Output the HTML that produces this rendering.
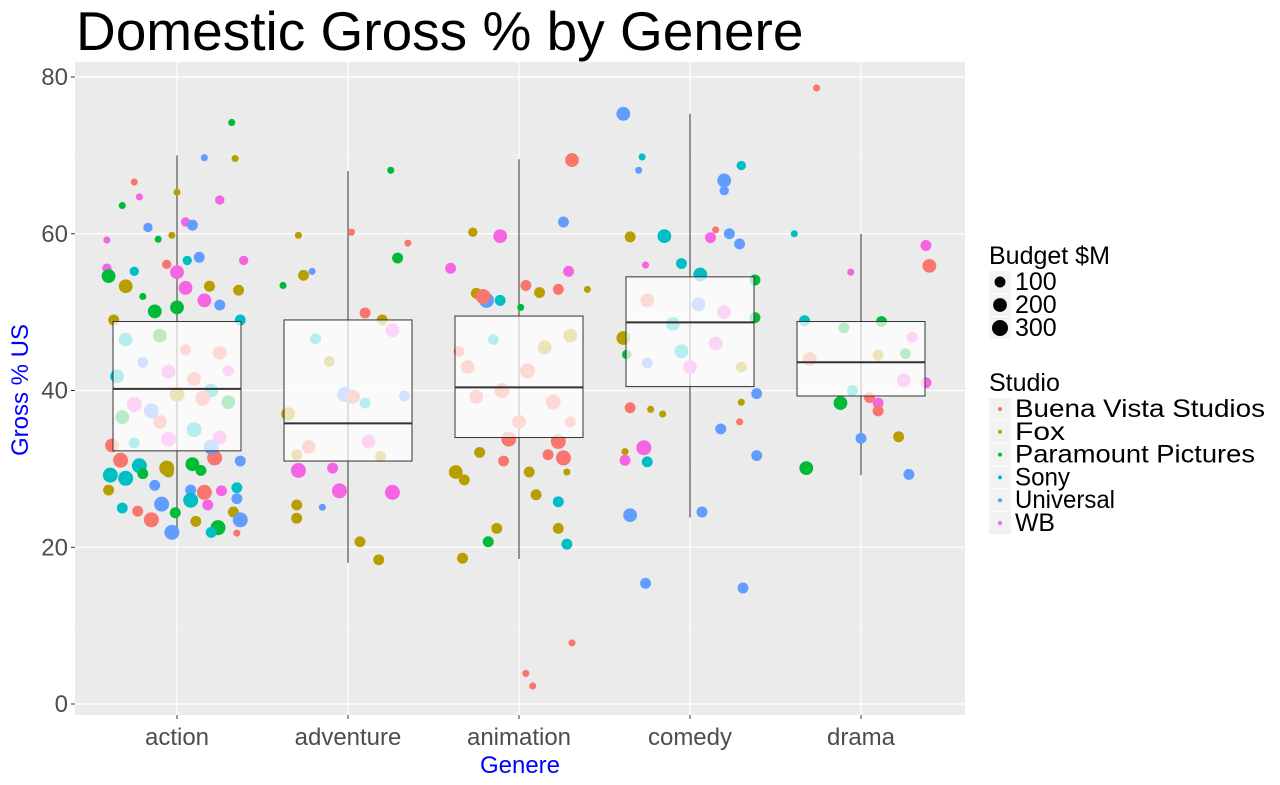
<!DOCTYPE html>
<html><head><meta charset="utf-8"><style>
body{margin:0;background:#fff;}
svg text{font-family:"Comic Sans MS","Liberation Sans",sans-serif;}
</style></head><body>
<svg id="c" width="1280" height="780" xmlns="http://www.w3.org/2000/svg">
<text x="76" y="50" font-size="55" fill="#000">Domestic Gross % by Genere</text>
</svg>
<script>
const categories=["action","adventure","animation","comedy","drama"];
const yTicks=[0,20,40,60,80];
const studios=["Buena Vista Studios","Fox","Paramount Pictures","Sony","Universal","WB"];
const studioColors=["#F8766D","#B79F00","#00BA38","#00BFC4","#619CFF","#F564E3"];
const budgetLegend=[100,200,300];
const boxQ1=[32.3,31.0,34.0,40.5,39.3];
const boxMed=[40.2,35.8,40.4,48.7,43.6];
const boxQ3=[48.8,49.0,49.5,54.5,48.8];
const boxLo=[22,18,18.5,23.8,29.2];
const boxHi=[70,68,69.5,75.3,60];
// points: [category, jitter, gross%, budget, studio]
const points=[
[0,.32,74.2,20,2],[0,.34,69.6,20,1],[0,.16,69.7,20,4],[0,-.25,66.6,20,0],[0,0,65.3,20,1],[0,-.22,64.7,20,5],[0,-.32,63.6,20,2],[0,.25,64.3,60,5],[0,.05,61.5,60,5],[0,-.17,60.8,60,4],[0,.09,61.1,100,4],[0,-.03,59.8,20,1],[0,-.41,59.2,20,5],[0,-.11,59.3,20,2],[0,.39,56.6,60,5],[0,.06,56.6,60,3],[0,.13,57,100,4],[0,-.06,56.1,60,0],[0,-.41,55.6,60,5],[0,-.25,55.2,60,3],[0,-.4,54.6,200,2],[0,0,55.1,200,5],[0,-.3,53.3,200,1],[0,.05,53.1,200,5],[0,.19,53.3,100,1],[0,.36,52.8,100,1],[0,-.13,50.1,200,2],[0,0,50.6,200,2],[0,.16,51.5,200,5],[0,-.2,52,20,2],[0,.25,50.9,100,4],[0,-.37,49,100,1],[0,.37,49,100,3],
[0,-.33,31.1,250,0],[0,-.22,30.4,250,3],[0,-.06,30.1,250,1],[0,.09,30.6,200,2],[0,.22,31.4,250,0],[0,.37,31,100,4],[0,-.39,29.2,250,3],[0,-.3,28.8,250,3],[0,-.2,29.4,100,2],[0,-.05,29.6,100,1],[0,.14,29.8,100,2],[0,-.4,27.3,100,1],[0,-.13,27.9,100,4],[0,.08,27.3,100,4],[0,.16,27,250,0],[0,.26,27.2,100,5],[0,.35,27.6,100,3],[0,.08,26,250,3],[0,.35,26.2,100,4],[0,-.09,25.5,250,4],[0,-.32,25,100,3],[0,.18,25.4,100,5],[0,-.23,24.6,100,0],[0,.33,24.5,100,1],[0,-.15,23.5,250,0],[0,.37,23.5,250,4],[0,-.01,24.4,100,2],[0,.24,22.5,250,2],[0,-.03,21.9,250,4],[0,.2,21.9,100,3],[0,.35,21.8,20,0],[0,.11,23.3,100,1],
[0,-.3,46.5,200,3],[0,-.1,47,200,2],[0,.05,45.2,100,0],[0,.25,44.8,200,0],[0,-.2,43.6,100,4],[0,.1,41.5,200,0],[0,-.35,41.8,200,3],[0,-.05,42.4,200,5],[0,.2,40,200,3],[0,.3,42.5,100,5],[0,-.25,38.2,250,5],[0,0,39.5,250,1],[0,.15,39,250,0],[0,-.15,37.4,250,4],[0,.3,38.5,200,2],[0,-.32,36.6,200,2],[0,-.1,36,200,0],[0,.1,35,250,3],[0,.25,34,200,5],[0,-.25,33.3,100,3],[0,-.05,33.8,250,5],[0,.2,32.8,250,4],[0,-.38,33,200,0],
[1,.25,68.1,20,2],[1,.02,60.2,20,0],[1,-.29,59.8,20,1],[1,.35,58.8,20,0],[1,.29,56.9,100,2],[1,-.21,55.2,20,4],[1,-.26,54.7,100,1],[1,-.38,53.4,20,2],[1,.1,49.9,100,0],[1,.2,49,100,1],[1,-.3,31.8,100,1],[1,.19,31.6,100,1],[1,-.29,29.8,250,5],[1,-.09,30.1,100,5],[1,-.05,27.2,250,5],[1,.26,27,250,5],[1,-.3,25.4,100,1],[1,-.15,25.1,20,4],[1,-.3,23.7,100,1],[1,.07,20.7,100,1],[1,.18,18.4,100,1],
[1,-.02,39.5,250,4],[1,.03,39.2,200,0],[1,-.23,32.8,200,0],[1,.12,33.5,200,5],[1,.26,47.7,200,5],[1,-.11,43.7,100,1],[1,-.19,46.6,100,3],[1,.33,39.3,100,4],[1,-.35,37,200,1],[1,.1,38.4,100,3],
[2,-.4,55.6,100,5],[2,-.27,60.2,60,1],[2,-.11,59.7,200,5],[2,.31,69.4,200,0],[2,.26,61.5,100,4],[2,.29,55.2,100,5],[2,-.25,52.4,100,1],[2,-.19,51.5,250,4],[2,.04,53.4,100,0],[2,.12,52.5,100,1],[2,-.21,52,250,0],[2,.23,52.9,100,0],[2,.4,52.9,20,1],[2,.01,50.6,20,2],[2,-.11,51.5,100,3],
[2,-.37,29.6,200,1],[2,-.32,28.6,100,1],[2,-.23,32.1,100,1],[2,-.09,31,100,0],[2,.06,29.6,100,1],[2,.26,31.4,250,0],[2,.28,29.6,20,1],[2,-.18,20.7,100,2],[2,-.13,22.4,100,1],[2,.1,26.7,100,1],[2,.23,25.8,100,3],[2,-.33,18.6,100,1],[2,.23,22.4,100,1],[2,.28,20.4,100,3],[2,.31,7.8,20,0],[2,.04,3.9,20,0],[2,.08,2.3,20,0],[2,-.06,33.8,250,0],[2,.23,33.5,250,0],[2,.17,31.8,100,0],
[2,-.3,43,200,0],[2,-.1,40,250,0],[2,.05,42.5,250,0],[2,.2,38.5,250,0],[2,-.25,39.2,200,0],[2,.15,45.5,200,1],[2,-.15,46.5,100,3],[2,.3,47,200,1],[2,0,36,200,0],[2,.3,36,100,0],[2,-.35,45,100,0],
[3,-.39,75.3,200,4],[3,-.28,69.8,20,3],[3,-.3,68.1,20,4],[3,.3,68.7,60,3],[3,.2,66.8,200,4],[3,.2,65.5,60,4],[3,-.35,59.6,100,1],[3,-.15,59.7,200,3],[3,.15,60.5,20,0],[3,.12,59.5,100,5],[3,.23,60,100,4],[3,.29,58.7,100,4],[3,-.26,56,20,5],[3,-.05,56.2,100,3],[3,.06,54.8,200,3],[3,-.39,46.7,200,1],[3,-.37,44.6,60,2],[3,-.35,37.8,100,0],[3,-.23,37.6,20,1],[3,-.16,37,20,1],[3,.3,38.5,20,1],[3,.39,39.6,100,4],[3,.29,36,20,0],[3,.18,35.1,100,4],[3,-.27,32.7,250,5],[3,-.38,32.2,20,1],[3,-.38,31.1,100,5],[3,-.25,30.9,100,3],[3,.39,31.7,100,4],[3,-.35,24.1,200,4],[3,.07,24.5,100,4],[3,-.26,15.4,100,4],[3,.31,14.8,100,4],[3,.38,54.1,100,2],[3,.38,49.3,100,2],
[3,-.25,51.5,200,0],[3,.05,51,200,4],[3,.2,50,200,5],[3,-.1,48.5,200,3],[3,.15,46,200,5],[3,-.05,45,200,3],[3,-.25,43.5,100,4],[3,.3,43,100,1],[3,0,43,200,5],
[4,-.26,78.6,20,0],[4,-.39,60,20,3],[4,.38,58.5,100,5],[4,.4,55.9,200,0],[4,-.06,55.1,20,5],[4,-.33,48.9,100,3],[4,.12,48.8,100,2],[4,-.12,38.4,200,2],[4,.05,39.1,100,0],[4,.1,38.4,100,5],[4,.1,37.4,100,0],[4,-.32,30.1,200,2],[4,.22,34.1,100,1],[4,0,33.9,100,4],[4,.28,29.3,100,4],[4,.26,44.7,100,2],[4,.38,41,100,5],
[4,-.3,44,200,0],[4,.1,44.5,100,1],[4,-.1,48,100,2],[4,.3,46.8,100,5],[4,.25,41.3,200,5],[4,-.05,40,100,3]
];
const svg=document.getElementById('c');
const NS="http://www.w3.org/2000/svg";
const PL=75,PR=965,PT=62,PB=715;
const x0=177,dx=171;
function xs(c,j){return x0+(c+j)*dx;}
function ys(v){return 704-v*7.8375;}
function rs(b){return 2+6*Math.sqrt(b/300);}
function mk(tag,attrs,parent){const e=document.createElementNS(NS,tag);for(const k in attrs)e.setAttribute(k,attrs[k]);(parent||svg).appendChild(e);return e;}
const panel=mk('rect',{x:PL,y:PT,width:PR-PL,height:PB-PT,fill:'#EBEBEB'});


const grid=mk('g',{});


for(let v=10;v<=70;v+=20){mk('line',{x1:PL,x2:PR,y1:ys(v),y2:ys(v),stroke:'#F5F5F5','stroke-width':0.6},grid);}
yTicks.forEach(v=>{mk('line',{x1:PL,x2:PR,y1:ys(v),y2:ys(v),stroke:'#fff','stroke-width':1.2},grid);
 const t=mk('text',{x:PL-7,y:ys(v)+8,'font-size':24,fill:'#4D4D4D','text-anchor':'end'});t.textContent=v;
 
 
 mk('line',{x1:PL-4,x2:PL,y1:ys(v),y2:ys(v),stroke:'#333'});
});
categories.forEach((c,i)=>{mk('line',{x1:xs(i,0),x2:xs(i,0),y1:PT,y2:PB,stroke:'#fff','stroke-width':1.2},grid);
 const t=mk('text',{x:xs(i,0),y:745,'font-size':24,fill:'#4D4D4D','text-anchor':'middle'});t.textContent=c;
 
 
 mk('line',{x1:xs(i,0),x2:xs(i,0),y1:PB,y2:PB+4,stroke:'#333'});
});
categories.forEach((c,i)=>{const w=mk('line',{x1:xs(i,0),x2:xs(i,0),y1:ys(boxHi[i]),y2:ys(boxLo[i]),stroke:'#333','stroke-width':1});
 
 });
points.forEach(p=>{const c=mk('circle',{cx:xs(p[0],p[1]),cy:ys(p[2]),r:rs(p[3]),fill:studioColors[p[4]]});
 
 });
categories.forEach((c,i)=>{const hw=64;
 const b=mk('rect',{x:xs(i,0)-hw,y:ys(boxQ3[i]),width:2*hw,height:ys(boxQ1[i])-ys(boxQ3[i]),fill:'rgba(255,255,255,0.72)',stroke:'#333','stroke-width':1});
 
 
 const m=mk('line',{x1:xs(i,0)-hw,x2:xs(i,0)+hw,y1:ys(boxMed[i]),y2:ys(boxMed[i]),stroke:'#333','stroke-width':2});
 
 });
let t=mk('text',{x:520,y:773,'font-size':24,fill:'#0000FF','text-anchor':'middle'});t.textContent='Genere';


t=mk('text',{x:0,y:0,'font-size':24,fill:'#0000FF','text-anchor':'middle',transform:'translate(28,390) rotate(-90)'});t.textContent='Gross % US';


t=mk('text',{x:989,y:264,'font-size':25,fill:'#000'});t.textContent='Budget $M';


budgetLegend.forEach((b,i)=>{const y=282+i*23;
 mk('rect',{x:989,y:y-11,width:22,height:22,fill:'#F2F2F2'});
 mk('circle',{cx:1000,cy:y,r:rs(b),fill:'#000'});
 const l=mk('text',{x:1015,y:y+8,'font-size':25,fill:'#000'});l.textContent=b;
 
 });
t=mk('text',{x:989,y:391,'font-size':25,fill:'#000'});t.textContent='Studio';


const studioWidths=[250,50,240,55,100,40];
studios.forEach((s,i)=>{const y=409+i*22.8;
 mk('rect',{x:989,y:y-11,width:22,height:22,fill:'#F2F2F2'});
 mk('circle',{cx:1000,cy:y,r:2,fill:studioColors[i]});
 const l=mk('text',{x:1015,y:y+8,'font-size':25,fill:'#000',textLength:studioWidths[i],lengthAdjust:'spacingAndGlyphs'});l.textContent=s;
 
 });
</script>
</body></html>
